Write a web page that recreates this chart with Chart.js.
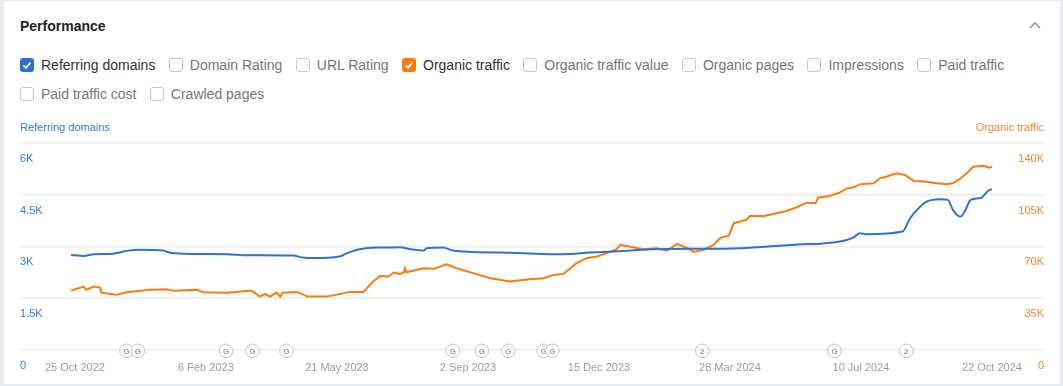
<!DOCTYPE html>
<html>
<head>
<meta charset="utf-8">
<script src="https://cdn.jsdelivr.net/npm/chart.js@4.4.1/dist/chart.umd.min.js"></script>
<style>
  html, body { margin: 0; padding: 0; }
  body { width: 1063px; height: 386px; background: #e9ebee; position: relative; overflow: hidden;
         font-family: "Liberation Sans", Arial, Helvetica, sans-serif; }
  .card { position: absolute; left: 4px; top: 1px; width: 1056px; height: 383px; background: #fff; }
  .title { position: absolute; left: 20px; top: 16px; font-size: 14px; line-height: 20px; font-weight: bold; color: #222; }
  .chev { position: absolute; left: 1029px; top: 21px; }
  .opts { position: absolute; left: 20px; top: 55px; width: 1024px; display: flex; flex-wrap: wrap;
          column-gap: 13.4px; row-gap: 9px; }
  .opt { display: flex; align-items: center; font-size: 14px; line-height: 20px; color: #777; }
  .box { width: 12px; height: 12px; border: 1px solid #c8c8c8; border-radius: 3px; margin-right: 7px; box-sizing: content-box; position: relative; }
  .opt.on { color: #333; }
  .opt.on .box { border-color: transparent; }
  .box svg { position: absolute; left: -1px; top: -1px; }
  .axt { position: absolute; top: 120px; font-size: 11px; line-height: 14px; }
  #chart { position: absolute; left: 0; top: 133px; }
</style>
</head>
<body>
<div class="card"></div>
<div class="title">Performance</div>
<svg class="chev" width="12" height="8" viewBox="0 0 12 8"><polyline points="1,7 6,2 11,7" fill="none" stroke="#8a8a8a" stroke-width="1.4"/></svg>
<div class="opts" id="opts"></div>
<div class="axt" style="left:20px;color:#3b7bd4;">Referring domains</div>
<div class="axt" style="right:19px;color:#f28a2e;">Organic traffic</div>
<canvas id="chart" width="1063" height="255"></canvas>
<script>
// options row
var metrics = ["Referring domains", "Domain Rating", "URL Rating", "Organic traffic", "Organic traffic value",
  "Organic pages", "Impressions", "Paid traffic", "Paid traffic cost", "Crawled pages"];
var checked = { "Referring domains": "#2f6fd6", "Organic traffic": "#ff7a0d" };

var optsEl = document.getElementById("opts");
metrics.forEach(function (m) {
  var on = checked[m];
  var d = document.createElement("div");
  d.className = "opt" + (on ? " on" : "");
  var box = '<span class="box"' + (on ? ' style="background:' + on + '"' : '') + '>' +
    (on ? '<svg width="14" height="14" viewBox="0 0 14 14"><polyline points="3.5,7.3 6,9.8 10.5,4.5" fill="none" stroke="#fff" stroke-width="1.8"/></svg>' : '') +
    '</span>';
  d.innerHTML = box + '<span>' + m + '</span>';
  optsEl.appendChild(d);
});

// days counted from 22 Oct 2022
var xTickDays = [3, 107, 211, 315, 419, 523, 627, 731];
var xTickLabels = ["25 Oct 2022", "6 Feb 2023", "21 May 2023", "2 Sep 2023", "15 Dec 2023", "28 Mar 2024", "10 Jul 2024", "22 Oct 2024"];

var rdDays = [0, 10, 18, 33, 44, 55, 73, 78, 89, 124, 139, 176, 184, 192, 213, 219, 229, 243, 253, 261,
  269, 280, 282, 295, 303, 319, 354, 380, 390, 412, 438, 460, 491, 515, 541, 581, 595, 621, 626, 632,
  660, 666, 674, 679, 690, 696, 700, 706, 710, 714, 722, 729, 731];
var rdValues = [2750, 2725, 2775, 2790, 2870, 2900, 2880, 2820, 2785, 2775, 2745, 2735, 2675, 2660, 2705, 2805, 2920, 2965, 2965, 2975,
  2920, 2880, 2945, 2965, 2880, 2840, 2810, 2775, 2775, 2820, 2870, 2920, 2935, 2930, 2965, 3065, 3080, 3255, 3385, 3355,
  3430, 3815, 4155, 4300, 4370, 4350, 4060, 3865, 4060, 4350, 4405, 4640, 4650];

var otDays = [0, 10, 12, 18, 23, 24, 36, 44, 63, 76, 81, 100, 105, 124, 143, 150, 154, 158, 163, 166,
  168, 179, 188, 203, 213, 221, 232, 239, 245, 252, 256, 261, 264, 265, 266, 280, 288, 298, 306, 319,
  333, 348, 364, 375, 383, 391, 401, 409, 417, 425, 433, 436, 444, 454, 465, 473, 481, 491, 494, 502,
  510, 515, 518, 522, 526, 536, 539, 550, 560, 568, 576, 584, 591, 593, 602, 610, 616, 621, 626, 637,
  642, 647, 655, 662, 669, 679, 687, 695, 700, 706, 711, 716, 724, 729, 731];
var otValues = [40100, 42800, 40600, 42800, 42100, 38700, 37200, 39000, 40600, 41000, 39900, 40600, 39000, 38700, 40100, 36000, 37900, 36000, 38700, 36000,
  38700, 39200, 36000, 36000, 37700, 39200, 39200, 45500, 50000, 49600, 52300, 51400, 52300, 55200, 52500, 55200, 54800, 57900, 55200, 51900,
  48500, 46200, 47800, 48500, 50700, 51400, 58600, 62000, 63100, 65400, 68100, 71000, 69800, 68100, 68800, 67100, 71700, 68100, 66300, 67600,
  71000, 75500, 76600, 77100, 85700, 87900, 90800, 90600, 92400, 94000, 96500, 99600, 99200, 103000, 104100, 106400, 109300, 110000, 112000, 112700,
  116100, 117200, 119500, 118300, 114300, 113800, 112700, 112000, 112700, 116100, 119500, 123900, 124600, 123300, 123900];

// Google update markers
var markerDays = [44, 53, 123, 144, 171, 303, 326, 347, 375, 382, 501, 606, 663];
var markerLabels = ["G", "G", "G", "G", "G", "G", "G", "G", "G", "G", "2", "G", "2"];

function pts(xs, ys) { return xs.map(function (x, i) { return { x: x, y: ys[i] }; }); }
function kfmt(v) { return v === 0 ? "0" : (v / 1000) + "K"; }

var markerPlugin = {
  id: "markers",
  afterDraw: function (chart) {
    var ctx = chart.ctx, xs = chart.scales.x, y = chart.chartArea.bottom + 1;
    ctx.save();
    markerDays.forEach(function (d, i) {
      var x = xs.getPixelForValue(d);
      ctx.beginPath();
      ctx.arc(x, y, 6.8, 0, Math.PI * 2);
      ctx.fillStyle = "#fff";
      ctx.fill();
      ctx.lineWidth = 1;
      ctx.strokeStyle = "#c4c4c4";
      ctx.stroke();
      ctx.fillStyle = "#9a9a9a";
      ctx.font = "bold 8px 'Liberation Sans', Arial, sans-serif";
      ctx.textAlign = "center";
      ctx.textBaseline = "middle";
      ctx.fillText(markerLabels[i], x, y + 0.5);
    });
    ctx.restore();
  }
};

var ctx = document.getElementById("chart").getContext("2d");
var myChart = new Chart(ctx, {
  type: "line",
  data: {
    datasets: [{
      label: "Referring domains",
      data: pts(rdDays, rdValues),
      yAxisID: "y",
      borderColor: "#2f72d4",
      borderWidth: 2,
      pointRadius: 0,
      cubicInterpolationMode: "monotone"
    }, {
      label: "Organic traffic",
      data: pts(otDays, otValues),
      yAxisID: "y2",
      borderColor: "#ff7a0d",
      borderWidth: 2,
      pointRadius: 0,
      tension: 0
    }]
  },
  options: {
    responsive: false,
    animation: false,
    layout: { padding: { left: 20, right: 19, top: 10, bottom: 1 } },
    plugins: { legend: { display: false }, tooltip: { enabled: false } },
    scales: {
      x: {
        type: "linear",
        min: -40.6,
        max: 772.3,
        border: { display: false },
        grid: { display: false, drawTicks: false },
        afterBuildTicks: function (scale) {
          scale.ticks = xTickDays.map(function (d) { return { value: d }; });
        },
        ticks: {
          autoSkip: false,
          maxRotation: 0,
          padding: 12,
          color: "#9e9e9e",
          font: { size: 11, family: "'Liberation Sans', Arial, sans-serif" },
          callback: function (v) { return xTickLabels[xTickDays.indexOf(v)]; }
        }
      },
      y: {
        position: "left",
        min: 0,
        max: 6000,
        border: { display: false },
        grid: { color: "#ececec", lineWidth: 1.5, drawTicks: false },
        ticks: {
          stepSize: 1500,
          mirror: true,
          padding: 0,
          labelOffset: 16,
          color: "#3b7bd4",
          font: { size: 11, family: "'Liberation Sans', Arial, sans-serif" },
          callback: kfmt
        }
      },
      y2: {
        position: "right",
        min: 0,
        max: 140000,
        border: { display: false },
        grid: { display: false, drawTicks: false },
        ticks: {
          stepSize: 35000,
          mirror: true,
          padding: 0,
          labelOffset: 16,
          color: "#f28a2e",
          font: { size: 11, family: "'Liberation Sans', Arial, sans-serif" },
          callback: kfmt
        }
      }
    }
  },
  plugins: [markerPlugin]
});
</script>
</body>
</html>
